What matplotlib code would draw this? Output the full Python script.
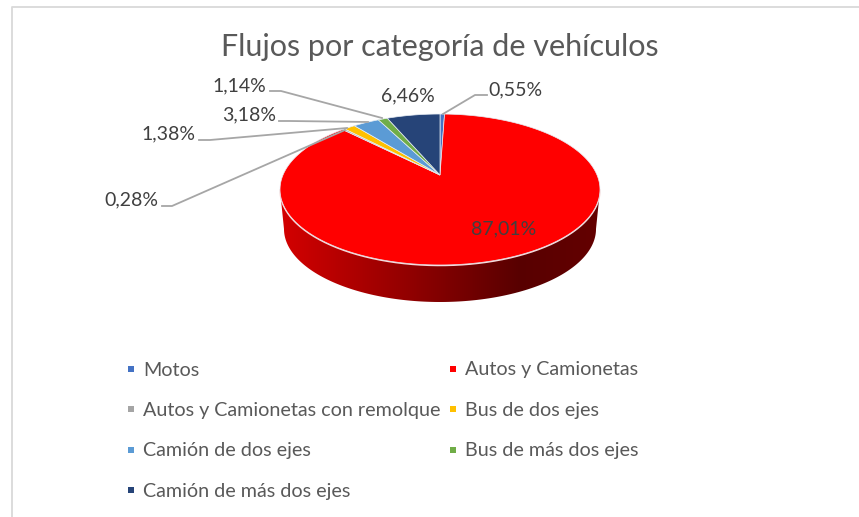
import numpy as np
import matplotlib.pyplot as plt
from matplotlib.lines import Line2D
from matplotlib.patches import Polygon

plt.rcParams['font.family'] = ['Lato', 'DejaVu Sans']

labels = ['Motos', 'Autos y Camionetas', 'Autos y Camionetas con remolque', 'Bus de dos ejes',
          'Camión de dos ejes', 'Bus de más dos ejes', 'Camión de más dos ejes']
values = [0.55, 87.01, 0.28, 1.38, 3.18, 1.14, 6.46]
colors = ['#4472c4', '#ff0000', '#a5a5a5', '#ffc000', '#5b9bd5', '#70ad47', '#264478']
label_pos = [(515, 90), (504, 229), (131, 200), (168, 134), (249, 115), (239, 86), (408, 96)]
leaders = [
    [(443, 114), (475, 95), (487, 95)],
    None,
    [(345, 130), (172, 206), (162, 206)],
    [(347, 128), (210, 140), (199, 140)],
    [(368, 122), (290, 121), (279, 121)],
    [(382, 118), (281, 91), (270, 91)],
    None,
]
legend_order = [0, 2, 4, 6, 1, 3, 5]

# pie seen from above with perspective: apex is not the middle of the ellipse
cx, cy = 440, 175
a, b, k = 157, 72.7, 0.192


def project(theta):
    # theta clockwise from top
    u = np.sin(theta)
    v = np.cos(theta)
    w = 1 + k * v
    return cx + a * u / w, cy - b * v / w


fig = plt.figure(figsize=(8.59, 5.17), dpi=100)
ax = fig.add_axes([0, 0, 1, 1])

# chart frame, only top and left are in the crop
ax.plot([12, 12, 859], [517, 6.5, 6.5], color='#d9d9d9', lw=1.3, zorder=1)

# side of the pie
t = np.linspace(0, np.pi, 181)
top_x, top_y = 440 + 160 * np.cos(t), 190 + 75.5 * np.sin(t)
bot_x, bot_y = 440 + 156 * np.cos(t), 229 + 73 * np.sin(t)
side_path = np.vstack([[[600, 190]], np.column_stack([bot_x, bot_y]), [[280, 190]]])
clip = Polygon(side_path, closed=True, transform=ax.transData, fc='none', ec='none')
ax.add_patch(clip)
grad_x = np.array([0.0, 0.75, 1.0])
grad_c = np.array([[212, 0, 0], [88, 0, 0], [100, 0, 0]]) / 255
g = np.linspace(0, 1, 320)
img = np.stack([np.interp(g, grad_x, grad_c[:, i]) for i in range(3)], axis=-1)[None, :, :]
im = ax.imshow(img, extent=(280, 600, 310, 185), aspect='auto', zorder=2)
im.set_clip_path(clip)
ax.set_xlim(0, 859)
ax.set_ylim(517, 0)
ax.axis('off')

# light rim along the front edge
ax.plot(top_x, top_y, color='#f6dcdc', lw=1.1, zorder=3)

# slices, clockwise from the top
start = 0.0
for val, col in zip(values, colors):
    end = start + val / sum(values) * 2 * np.pi
    th = np.linspace(start, end, max(int(val * 6), 4))
    x, y = project(th)
    ax.fill(np.r_[cx, x], np.r_[cy, y], facecolor=col, edgecolor='#e8eef5', lw=0.5, zorder=4)
    start = end

# leader lines
for pts in leaders:
    if pts is not None:
        ax.plot(*zip(*pts), color='#a6a6a6', lw=1.3, zorder=5)

# data labels
for val, (lx, ly) in zip(values, label_pos):
    ax.text(lx, ly, f'{val:.2f}%'.replace('.', ','), ha='center', va='center',
            fontsize=14, color='#404040', zorder=6)

ax.text(440, 47, 'Flujos por categoría de vehículos', ha='center', va='center',
        fontsize=22, color='#595959')

handles = [Line2D([], [], ls='none', marker='s', ms=4.8, color=colors[i], mew=0) for i in legend_order]
ax.legend(handles, [labels[i] for i in legend_order], ncol=2, frameon=False,
          loc='upper left', bbox_to_anchor=(125 / 859, 1 - 361.5 / 517),
          fontsize=14.2, labelcolor='#595959', handlelength=0.6, handletextpad=0.31,
          labelspacing=1.19, columnspacing=0.33, borderpad=0, borderaxespad=0)

plt.savefig('out.png', dpi=100)
